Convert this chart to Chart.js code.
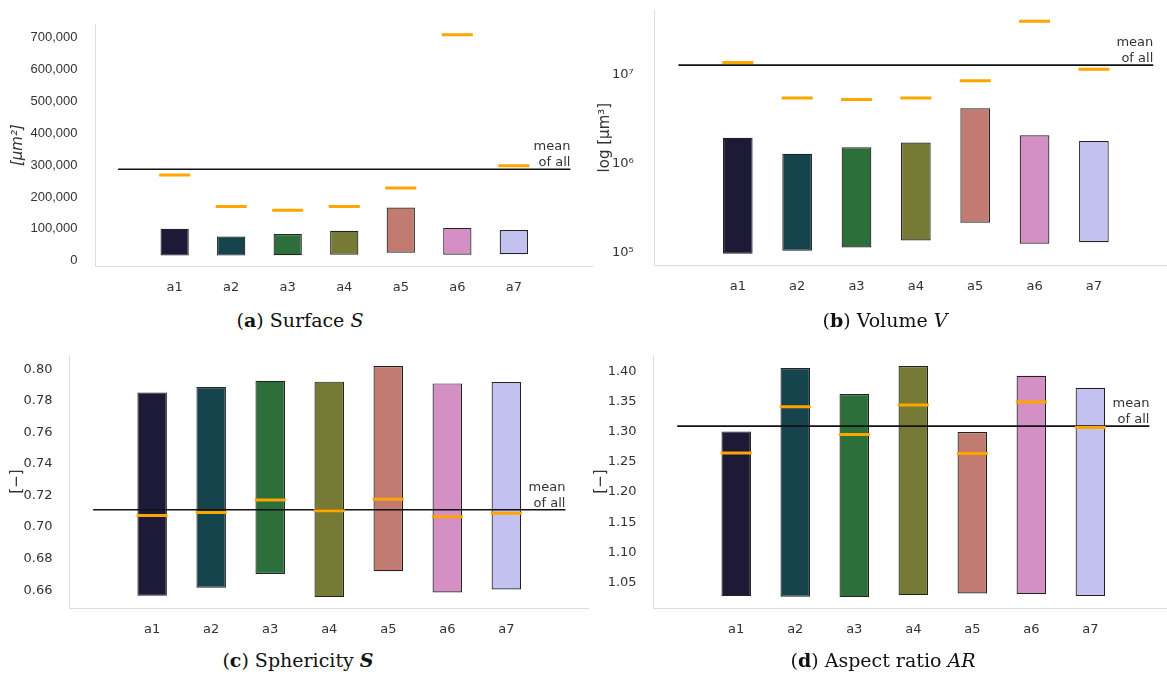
<!DOCTYPE html>
<html>
<head>
<meta charset="utf-8">
<script src="https://cdn.jsdelivr.net/npm/chart.js@4.4.1/dist/chart.umd.min.js"></script>
<style>
  html, body { margin: 0; padding: 0; background: #fff; width: 1167px; height: 675px; overflow: hidden; position: relative; }
  canvas { position: absolute; }
  .cap { position: absolute; width: 400px; text-align: center; font-family: 'DejaVu Serif'; font-size: 19px; line-height: 22px; color: #111; }
</style>
</head>
<body>
<canvas id="chart-a" width="593" height="300" style="left:0;top:0"></canvas>
<canvas id="chart-b" width="594" height="300" style="left:583px;top:0"></canvas>
<canvas id="chart-c" width="589" height="300" style="left:0;top:340px"></canvas>
<canvas id="chart-d" width="590" height="300" style="left:583px;top:340px"></canvas>
<div class="cap" style="left:100px;top:309px">(<b>a</b>) Surface <i>S</i></div>
<div class="cap" style="left:685px;top:309px">(<b>b</b>) Volume <i>V</i></div>
<div class="cap" style="left:98px;top:649px">(<b>c</b>) Sphericity <b><i>S</i></b></div>
<div class="cap" style="left:683px;top:649px">(<b>d</b>) Aspect ratio <i>AR</i></div>
<script>
const labels = ['a1', 'a2', 'a3', 'a4', 'a5', 'a6', 'a7']
const colors = ['#1c1a36', '#16444d', '#2c6f3b', '#767a35', '#c17b70', '#d48fc5', '#c2c1f0']

// (a) surface
const surfaceLow = [16000, 16000, 17000, 19000, 25000, 19000, 20000]
const surfaceHigh = [100000, 76000, 84000, 94000, 167000, 103000, 96000]
const surfaceMean = [269000, 170000, 158000, 170000, 228000, 709000, 298000]
const surfaceAll = 287000
const surfaceTicks = [0, 100000, 200000, 300000, 400000, 500000, 600000, 700000]

// (b) volume
const volumeLow = [9.6e4, 1.04e5, 1.13e5, 1.36e5, 2.16e5, 1.25e5, 1.30e5]
const volumeHigh = [1.96e6, 1.29e6, 1.53e6, 1.73e6, 4.21e6, 2.09e6, 1.80e6]
const volumeMean = [1.38e7, 5.5e6, 5.3e6, 5.5e6, 8.6e6, 4.03e7, 1.16e7]
const volumeAll = 1.29e7
const volumeTicks = [1e5, 1e6, 1e7]

// (c) sphericity
const sphericityLow = [0.6564, 0.6615, 0.6703, 0.6556, 0.6720, 0.6585, 0.6604]
const sphericityHigh = [0.7854, 0.7888, 0.7928, 0.7922, 0.8021, 0.7911, 0.7920]
const sphericityMean = [0.7074, 0.7093, 0.7171, 0.7104, 0.7177, 0.7065, 0.7088]
const sphericityAll = 0.7110
const sphericityTicks = [0.66, 0.68, 0.70, 0.72, 0.74, 0.76, 0.78, 0.80]

// (d) aspect ratio
const aspectLow = [1.0273, 1.0262, 1.0256, 1.0289, 1.0317, 1.0306, 1.0273]
const aspectHigh = [1.3009, 1.4061, 1.3629, 1.4094, 1.2998, 1.3934, 1.3734]
const aspectMean = [1.2649, 1.3419, 1.2959, 1.3446, 1.2643, 1.3496, 1.3075]
const aspectAll = 1.3097
const aspectTicks = [1.05, 1.10, 1.15, 1.20, 1.25, 1.30, 1.35, 1.40]

Chart.defaults.font.family = 'DejaVu Sans'
Chart.defaults.color = '#333'

const meanLabel = {
  id: 'meanLabel',
  afterDatasetsDraw (chart, args, opts) {
    const { ctx, scales: { x, y } } = chart
    const px = x.getPixelForValue(labels.length)
    const py = y.getPixelForValue(opts.value)
    ctx.save()
    ctx.font = '13px "DejaVu Sans"'
    ctx.fillStyle = '#333'
    ctx.textAlign = 'right'
    ctx.textBaseline = 'alphabetic'
    ctx.fillText('mean', px, py - 19)
    ctx.fillText('of all', px, py - 3)
    ctx.restore()
  }
}

const sup = { 5: '⁵', 6: '⁶', 7: '⁷' }

function buildPanel (id, p) {
  const ctx = document.getElementById(id)

  new Chart(ctx, {
    type: 'bar',
    data: {
      datasets: [
        {
          type: 'scatter',
          data: p.mean.map((v, i) => ({ x: i, y: v })),
          pointStyle: 'line',
          radius: 15.5,
          borderColor: '#ffa500',
          borderWidth: 3,
          order: 1
        },
        {
          type: 'line',
          data: [{ x: -1, y: p.all }, { x: labels.length, y: p.all }],
          borderColor: '#111',
          borderWidth: 1.7,
          pointRadius: 0,
          order: 2
        },
        {
          data: p.low.map((v, i) => ({ x: i, y: [v, p.high[i]] })),
          backgroundColor: colors,
          borderColor: '#222',
          borderWidth: 1.2,
          borderSkipped: false,
          categoryPercentage: 1,
          barPercentage: 0.5,
          order: 3
        }
      ]
    },
    plugins: [meanLabel],
    options: {
      responsive: false,
      animation: false,
      events: [],
      layout: { autoPadding: false, padding: { top: p.top, left: 0, right: 0, bottom: 0 } },
      scales: {
        x: {
          type: 'linear',
          offset: false,
          min: -1.4,
          max: 7.4,
          grid: { display: false, offset: false },
          border: { color: '#dcdcdc', width: 1 },
          afterBuildTicks: s => { s.ticks = labels.map((l, i) => ({ value: i })) },
          afterFit: s => { s.height = p.xh; s.paddingLeft = 0; s.paddingRight = 0 },
          ticks: {
            padding: 6,
            maxRotation: 0,
            autoSkip: false,
            font: { size: 13 },
            color: '#333',
            callback: v => labels[v]
          }
        },
        y: {
          type: p.type,
          min: p.min,
          max: p.max,
          grid: { display: false },
          border: { color: '#dcdcdc', width: 1 },
          afterBuildTicks: s => { s.ticks = p.ticks.map(v => ({ value: v })) },
          afterFit: s => { s.width = p.yw; s.paddingTop = 0; s.paddingBottom = 0 },
          ticks: {
            padding: p.tickPad,
            font: p.tickFont,
            color: '#333',
            callback: p.fmt
          },
          title: {
            display: true,
            text: p.title,
            font: { size: 15, style: p.titleStyle },
            color: '#333',
            padding: { top: p.titlePad, bottom: 0 }
          }
        }
      },
      plugins: {
        legend: { display: false },
        tooltip: { enabled: false },
        meanLabel: { value: p.all }
      }
    }
  })
}

buildPanel('chart-a', {
  low: surfaceLow, high: surfaceHigh, mean: surfaceMean, all: surfaceAll, ticks: surfaceTicks,
  type: 'linear', min: -17600, max: 743000,
  top: 24, xh: 300 - 266.3, yw: 95.5, tickPad: 10,
  tickFont: { family: 'Liberation Sans', size: 13 },
  fmt: v => v.toLocaleString('en-US'),
  title: '[μm²]', titleStyle: 'italic', titlePad: 9
})

buildPanel('chart-b', {
  low: volumeLow, high: volumeHigh, mean: volumeMean, all: volumeAll, ticks: volumeTicks,
  type: 'logarithmic', min: 7.13e4, max: 5.41e7,
  top: 10, xh: 300 - 265.3, yw: 71.7, tickPad: 13,
  tickFont: { size: 13 },
  fmt: v => '10' + sup[Math.round(Math.log10(v))],
  title: 'log [μm³]', titleStyle: 'normal', titlePad: 13.5
})

buildPanel('chart-c', {
  low: sphericityLow, high: sphericityHigh, mean: sphericityMean, all: sphericityAll, ticks: sphericityTicks,
  type: 'linear', min: 0.6487, max: 0.8091,
  top: 15, xh: 300 - 268, yw: 69.5, tickPad: 9,
  tickFont: { size: 13 },
  fmt: v => v.toFixed(2),
  title: '[−]', titleStyle: 'normal', titlePad: 8
})

buildPanel('chart-d', {
  low: aspectLow, high: aspectHigh, mean: aspectMean, all: aspectAll, ticks: aspectTicks,
  type: 'linear', min: 1.0075, max: 1.4278,
  top: 15, xh: 300 - 268, yw: 70.6, tickPad: 9,
  tickFont: { size: 13 },
  fmt: v => v.toFixed(2),
  title: '[−]', titleStyle: 'normal', titlePad: 9
})
</script>
</body>
</html>
